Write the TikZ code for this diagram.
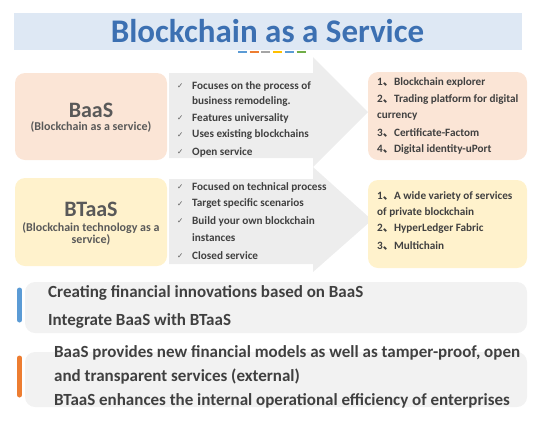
\documentclass[tikz,border=0pt]{standalone}
\usepackage{fontspec}
\setmainfont{Carlito}
\newfontfamily\cjkfont{Noto Sans CJK SC}
\newfontfamily\symfont{DejaVu Sans}
\usetikzlibrary{positioning}
\definecolor{titlebar}{HTML}{DEE8F4}
\definecolor{titleblue}{HTML}{3C70B2}
\definecolor{peach}{HTML}{FBE5D6}
\definecolor{cream}{HTML}{FFF2CC}
\definecolor{arrowgray}{HTML}{EDEDED}
\definecolor{panelgray}{HTML}{F2F2F2}
\definecolor{txtgray}{HTML}{404040}
\definecolor{headgray}{HTML}{595959}
\definecolor{barblue}{HTML}{5B9BD5}
\definecolor{barorange}{HTML}{ED7D31}
\definecolor{dashgray}{HTML}{A5A5A5}
\definecolor{dashyellow}{HTML}{FFC000}
\definecolor{dashgreen}{HTML}{70AD47}
\newcommand{\cm}{{\cjkfont 、}}

\begin{document}
\begin{tikzpicture}[x=1pt,y=-1pt,
 item/.style={anchor=west,inner sep=0pt,font=\fontsize{11.2}{13}\selectfont\bfseries,text=txtgray},
 chk/.style={anchor=west,inner sep=0pt,font=\fontsize{7.5}{8}\selectfont\symfont,text=headgray},
 line/.style={anchor=west,inner sep=0pt,font=\fontsize{17}{19}\selectfont\bfseries,text=txtgray},
 card/.style={rounded corners=10pt},
 bar/.style={line width=5pt,line cap=round}]
\useasboundingbox (0,0) rectangle (533,424);
% title
\fill[titlebar] (14,13) rectangle (522,50);
\node[font=\fontsize{33}{35}\selectfont\bfseries,text=titleblue,inner sep=0pt] (title) at (267.5,31) {Blockchain as a Service};
\foreach \i/\col in {0/barblue,1/barorange,2/dashgray,3/dashyellow,4/barblue,5/dashgreen}
 \draw[color=\col,line width=1.8pt] (238+\i*11.7,52) -- (247+\i*11.7,52);
% arrows
\fill[arrowgray] (169,73) -- (313,73) -- (313,57) -- (368,112) -- (313,167) -- (313,158) -- (169,158) -- cycle;
\fill[arrowgray] (169,179) -- (313,179) -- (313,167) -- (372,220) -- (313,272) -- (313,264) -- (169,264) -- cycle;
% left cards
\fill[peach,card] (15,73) rectangle (167,160);
\node[font=\fontsize{22}{24}\selectfont\bfseries,text=headgray,inner sep=0pt] (baas) at (91,110) {BaaS};
\node[font=\fontsize{12}{13}\selectfont\bfseries,text=headgray,inner sep=0pt] (baasfull) at (91,127) {(Blockchain as a service)};
\fill[cream,card] (15,178) rectangle (167,266);
\node[font=\fontsize{22}{24}\selectfont\bfseries,text=headgray,inner sep=0pt] (btaas) at (91,209) {BTaaS};
\node[font=\fontsize{12}{12}\selectfont\bfseries,text=headgray,inner sep=0pt,align=center] (btaasfull) at (91,234) {(Blockchain technology as a\\service)};
% right cards
\fill[peach,card] (368,72) rectangle (527,160);
\fill[cream,card] (368,180) rectangle (527,268);
% bullet lists
\foreach \y/\t in {86/Focuses on the process of,102/business remodeling.,118/Features universality,135/Uses existing blockchains,152/Open service,
 187/Focused on technical process,204/Target specific scenarios,221/Build your own blockchain,238/instances,256/Closed service}
 \node[item] (pt\y) at (192,\y) {\t};
\foreach \y in {86,118,135,152,187,204,221,256}
 \node[chk] (ck\y) at (177,\y) {✓};
\foreach \y/\t in {82/1\cm Blockchain explorer,100/2\cm Trading platform for digital,117/currency,133/3\cm Certificate-Factom,150/4\cm Digital identity-uPort,
 196/1\cm A wide variety of services,212/of private blockchain,229/2\cm HyperLedger Fabric,246/3\cm Multichain}
 \node[item] (us\y) at (377,\y) {\t};
% bottom panels
\fill[panelgray,card] (25,282) rectangle (527,333);
\draw[bar,barblue] (19.5,290) -- (19.5,320);
\node[line] (p1a) at (48,293) {Creating financial innovations based on BaaS};
\node[line] (p1b) at (48,321) {Integrate BaaS with BTaaS};
\fill[panelgray,card] (25,352) rectangle (527,407);
\draw[bar,barorange] (19.5,358) -- (19.5,395);
\node[line] (p2a) at (54,353) {BaaS provides new financial models as well as tamper-proof, open};
\node[line] (p2b) at (54,377) {and transparent services (external)};
\node[line] (p2c) at (54,401) {BTaaS enhances the internal operational efficiency of enterprises};
\end{tikzpicture}
\end{document}
